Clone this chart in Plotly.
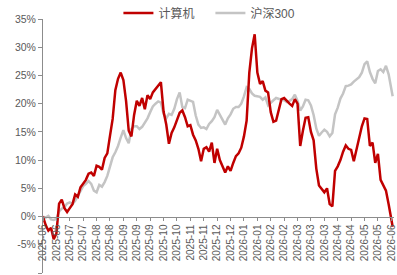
import plotly.graph_objects as go

# Tick labels on the category (trading-day) axis, one every 10 trading days
tick_labels = ["2025-06", "2025-06", "2025-07", "2025-07", "2025-08", "2025-08",
               "2025-09", "2025-09", "2025-09", "2025-10", "2025-10", "2025-11",
               "2025-11", "2025-12", "2025-12", "2026-01", "2026-01", "2026-02",
               "2026-02", "2026-03", "2026-03", "2026-03", "2026-04", "2026-04",
               "2026-05", "2026-05", "2026-06"]
tick_pos = list(range(0, 261, 10))

# trading-day index of each sampled point
day_index = list(range(0, 261, 2)) + [261]

# cumulative return, %
computer = [0, -1.5, -2.5, -2, -4, -3, 2.3, 3.0, 1.5, 0.8,
            1.5, 2.2, 3.9, 3.5, 5.2, 5.9, 6.5, 7.6, 7.8, 7.2,
            9.0, 8.8, 8.3, 10.4, 11.2, 14.3, 17.3, 22.4, 24.4, 25.5,
            24.2, 20.5, 15.2, 14.2, 18.0, 20.5, 19.6, 21.0, 19.0, 21.5,
            20.8, 22.0, 22.6, 23.1, 23.8, 18.6, 16.3, 12.9, 14.8, 15.8,
            17.3, 18.4, 18.8, 17.6, 16.0, 16.2, 14.5, 13.5, 12.0, 9.8,
            12.0, 12.3, 11.5, 13.1, 9.5, 12.0, 10.0, 8.8, 7.8, 8.9,
            8.1, 9.5, 10.7, 11.2, 12.2, 14.2, 17.0, 25.5, 29.8, 32.3,
            25.5, 23.5, 24.0, 22.3, 22.0, 18.5, 16.8, 17.0, 19.0, 20.8,
            21.0, 20.4, 20.0, 19.6, 20.8, 20.0, 12.5, 15.2, 17.5, 17.6,
            15.0, 13.5, 8.5, 5.5, 4.8, 4.3, 5.0, 2.2, 1.8, 8.1,
            8.9, 10.0, 11.5, 12.6, 12.0, 11.8, 9.8, 11.9, 13.5, 16.0,
            17.4, 17.3, 12.5, 13.1, 9.5, 11.1, 6.5, 5.5, 4.6, 2.2,
            -0.5, -1.8]

csi300 = [0, -0.2, 0.1, -0.5, -0.6, -0.4, 0.9, 1.4, 1.7, 2.3,
          2.5, 2.2, 2.8, 3.7, 4.4, 5.4, 5.8, 6.3, 5.8, 4.6,
          4.3, 5.6, 5.3, 6.1, 7.2, 8.9, 10.5, 11.4, 12.5, 14.0,
          15.3, 13.9, 13.0, 15.5, 16.0, 16.0, 15.5, 15.9, 16.6, 17.4,
          18.5, 19.5, 20.0, 20.4, 20.2, 18.2, 17.4, 18.2, 18.0, 19.1,
          20.8, 22.0, 19.4, 19.2, 20.7, 20.5, 20.3, 17.9, 16.3, 15.7,
          15.8, 15.5, 16.4, 16.9, 17.6, 18.9, 18.0, 17.3, 16.3, 17.4,
          18.1, 19.1, 19.4, 19.4, 20.0, 21.3, 22.9, 22.6, 21.8, 21.4,
          21.3, 21.2, 20.7, 21.1, 19.7, 20.2, 20.6, 21.0, 20.8, 20.7,
          20.6, 20.3, 20.5, 20.8, 21.6, 20.5, 18.8, 19.5, 20.7, 20.6,
          19.7, 18.0, 15.6, 14.3, 14.9, 15.4, 15.0, 14.2, 14.8, 18.1,
          19.3, 20.9, 21.8, 23.1, 23.2, 23.4, 23.9, 24.3, 24.7, 25.5,
          27.0, 27.5, 25.6, 24.4, 23.6, 25.8, 26.1, 25.6, 26.7, 25.2,
          22.5, 21.3]

y_ticks = [-10, -5, 0, 5, 10, 15, 20, 25, 30, 35]
y_text = [f"{v}%" for v in y_ticks]

fig = go.Figure()
fig.add_trace(go.Scatter(x=day_index, y=csi300, mode="lines", name="沪深300",
                         line=dict(color="#C4C4C4", width=2.5), legendrank=2))
fig.add_trace(go.Scatter(x=day_index, y=computer, mode="lines", name="计算机",
                         line=dict(color="#C00000", width=2.5), legendrank=1))

y_lo, y_hi = -10, 35
fig.update_layout(
    width=397, height=275,
    margin=dict(l=43, r=3, t=19, b=2, autoexpand=False),
    paper_bgcolor="white", plot_bgcolor="white",
    font=dict(family="Liberation Sans, Noto Sans CJK SC", color="#595959", size=10),
    showlegend=True,
    legend=dict(orientation="h", xref="container", x=0.53, xanchor="center",
                yref="container", y=1 - 13 / 275, yanchor="middle",
                font=dict(size=12, color="#595959", family="Liberation Sans, Noto Sans CJK SC"),
                bgcolor="rgba(0,0,0,0)", traceorder="normal",
                entrywidth=47, entrywidthmode="pixels"),
    xaxis=dict(range=[0, 262], tickmode="array", tickvals=tick_pos, ticktext=tick_labels,
               tickangle=-90, showgrid=False, zeroline=False, showline=True,
               linecolor="#8C8C8C", linewidth=1, ticks="outside", ticklen=3,
               tickcolor="#8C8C8C", anchor="free", automargin=False,
               position=(0 - y_lo) / (y_hi - y_lo),
               tickfont=dict(size=10, color="#595959")),
    yaxis=dict(range=[y_lo, y_hi], tickmode="array", tickvals=y_ticks, ticktext=y_text,
               showgrid=False, zeroline=False, showline=True, linecolor="#8C8C8C",
               linewidth=1, ticks="outside", ticklen=4, tickcolor="#8C8C8C",
               automargin=False, tickfont=dict(size=10.5, color="#595959")),
)

fig.write_html("out.html", config={"displayModeBar": False},
               post_script="document.body.style.margin='0px';")
